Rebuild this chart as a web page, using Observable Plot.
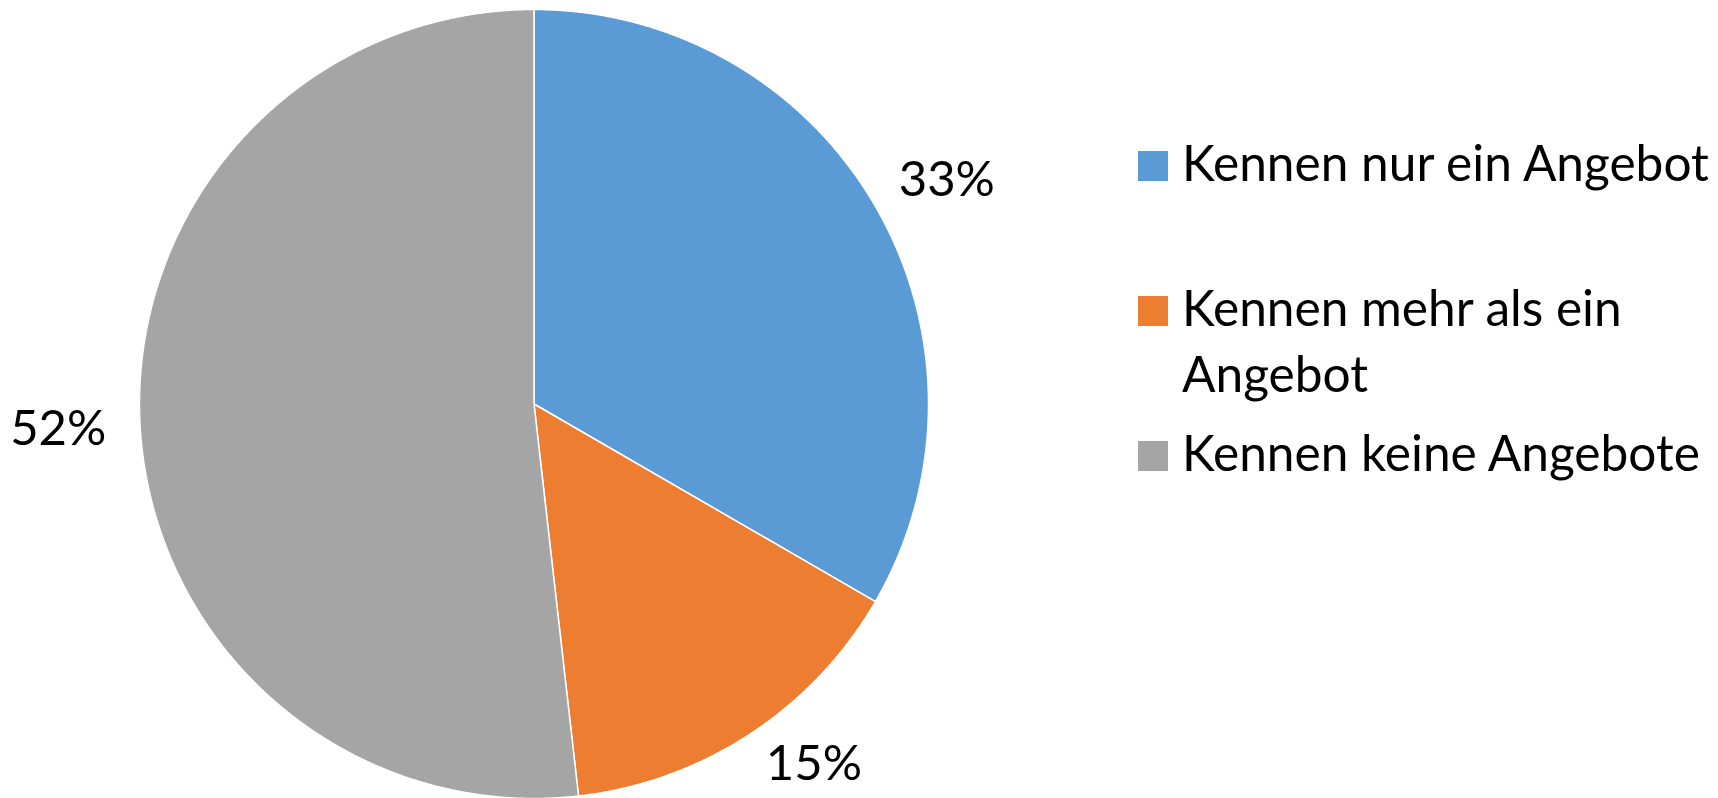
<!DOCTYPE html>
<html>
<head>
<meta charset="utf-8">
<script src="https://cdn.jsdelivr.net/npm/d3@7"></script>
<script src="https://cdn.jsdelivr.net/npm/@observablehq/plot@0.6"></script>
<style>
  html, body { margin: 0; padding: 0; background: #fff; }
  #wrap { position: relative; width: 1718px; height: 798px; overflow: hidden; font-family: Lato, "Open Sans", sans-serif; }
  #chart { position: absolute; left: 0; top: 0; }
  #legend { position: absolute; left: 1138px; top: 129px; }
  .row { display: flex; align-items: flex-start; height: 145px; }
  .sw { width: 30px; height: 30px; flex: none; margin-top: 22px; }
  .lab { margin-left: 14px; width: 545px; font-size: 49.6px; line-height: 66px; color: #000; }
</style>
</head>
<body>
<div id="wrap">
  <div id="chart"></div>
  <div id="legend"></div>
</div>
<script>
// ---- data ----
const categories = ["Kennen nur ein Angebot", "Kennen mehr als ein Angebot", "Kennen keine Angebote"];
const shares = [33.35, 14.85, 51.8];
const labels = ["33%", "15%", "52%"];
const colors = ["#5B9BD5", "#ED7D31", "#A5A5A5"];

// ---- layout ----
const W = 1718, H = 798;
const mL = 139, mR = 790, mT = 9, mB = 0;
const k = (W - mL - mR) / 2; // px per data unit (radius)

const data = categories.map((c, i) => ({cat: c, share: shares[i], label: labels[i]}));
const arcs = d3.pie().sort(null).value(d => d.share)(data);

// slice polygons in data units (centre 0,0, radius 1), angle 0 at 12 o'clock clockwise
const pts = [];
for (const a of arcs) {
  pts.push({cat: a.data.cat, x: 0, y: 0});
  const n = Math.max(2, Math.ceil((a.endAngle - a.startAngle) / 0.004));
  for (let j = 0; j <= n; j++) {
    const t = a.startAngle + (a.endAngle - a.startAngle) * j / n;
    pts.push({cat: a.data.cat, x: Math.sin(t), y: Math.cos(t)});
  }
  pts.push({cat: a.data.cat, x: 0, y: 0});
}

// outside-end label placement
const gap = 38 / k, hw = 44 / k, hh = 15 / k;
const yMin = -((H - 34) - (mT + k)) / k;
const labPts = arcs.map(a => {
  const m = (a.startAngle + a.endAngle) / 2;
  const ux = Math.sin(m), uy = Math.cos(m);
  let x = (1 + gap) * ux + ux * hw;
  let y = (1 + gap) * uy + uy * hh;
  if (y < yMin) {
    const d = Math.hypot(x, y);
    y = yMin;
    x = Math.sign(x) * Math.sqrt(Math.max(0, d * d - y * y));
  }
  return {label: a.data.label, x, y};
});

const chart = Plot.plot({
  width: W, height: H,
  marginLeft: mL, marginRight: mR, marginTop: mT, marginBottom: mB,
  x: {domain: [-1, 1], axis: null},
  y: {domain: [-1, 1], axis: null},
  color: {domain: categories, range: colors},
  style: {background: "#fff", overflow: "visible"},
  marks: [
    Plot.line(pts, {x: "x", y: "y", z: "cat", fill: "cat", stroke: "#fff", strokeWidth: 1.5, strokeLinejoin: "round", curve: "linear"}),
    Plot.text(labPts, {x: "x", y: "y", text: "label", fontSize: 49, fontFamily: "Lato, 'Open Sans', sans-serif", fill: "#000", textAnchor: "middle", lineAnchor: "middle"})
  ]
});
document.getElementById("chart").appendChild(chart);

// legend
const leg = document.getElementById("legend");
categories.forEach((c, i) => {
  const row = document.createElement("div");
  row.className = "row";
  const sw = document.createElement("div");
  sw.className = "sw";
  sw.style.background = colors[i];
  const lab = document.createElement("div");
  lab.className = "lab";
  lab.textContent = c;
  row.appendChild(sw);
  row.appendChild(lab);
  leg.appendChild(row);
});
</script>
</body>
</html>
